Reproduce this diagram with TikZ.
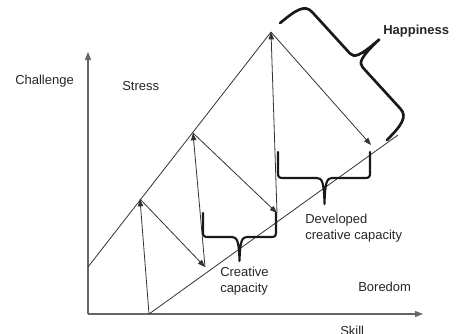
\documentclass[tikz,border=0pt]{standalone}
\usepackage{fontspec}
\setmainfont{Liberation Sans}
\usepackage{tikz}
\usetikzlibrary{arrows.meta,positioning}

\begin{document}
\begin{tikzpicture}[x=0.75pt,y=-0.75pt,
  font=\fontsize{9.75}{11.5}\selectfont,
  axis/.style={draw=black!60,line width=0.9pt,-{Triangle[length=6pt,width=4.5pt]}},
  edge/.style={draw=black!80,line width=0.6pt},
  arr/.style={edge,-{Triangle[length=5.5pt,width=4pt]}},
  brc/.style={draw=black!90,line width=1.6pt,line cap=round,line join=round},
  lbl/.style={text=black!85,inner sep=0pt,align=left}]
\useasboundingbox (0,0) rectangle (460,333);

% axes
\coordinate (O) at (88,314);
\coordinate (ytop) at (88,52);
\coordinate (xend) at (423,314);
\draw[axis] (O) -- (ytop);
\draw[axis] (O) -- (xend);

% stress and boredom borders
\coordinate (s0) at (88,267);
\coordinate (p1) at (140,199);
\coordinate (p2) at (193,133);
\coordinate (p3) at (271,32);
\coordinate (b0) at (149,314);
\coordinate (b1) at (205,267);
\coordinate (b2) at (277,213);
\coordinate (b3) at (371,145);
\coordinate (bend) at (398,135);
\draw[edge] (s0) -- (p3);
\draw[edge] (b0) -- (bend);

% growth steps
\draw[arr] (b0) -- (p1);
\draw[arr] (p1) -- (b1);
\draw[arr] (b1) -- (p2);
\draw[arr] (p2) -- (b2);
\draw[arr] (b2) -- (p3);
\draw[arr] (p3) -- (b3);

% braces
\begin{scope}[shift={(203,213)}]
  \draw[brc] (0,0) -- (0,19) .. controls (0,23) and (1,24) .. (5,24) -- (29,24)
    .. controls (34,24) and (36,28) .. (36.5,48) .. controls (37,28) and (39,24) .. (44,24)
    -- (68,24) .. controls (72,24) and (73,23) .. (73,19) -- (73,0);
\end{scope}
\begin{scope}[shift={(278,152)}]
  \draw[brc] (0,0) -- (0,21) .. controls (0,25) and (1,26) .. (5,26) -- (39,26)
    .. controls (44,26) and (46,30) .. (46.5,52) .. controls (47,30) and (49,26) .. (54,26)
    -- (87,26) .. controls (91,26) and (92,25) .. (92,21) -- (92,0);
\end{scope}
\begin{scope}[shift={(387,140)},rotate=132.4]
  \draw[brc,line width=2pt] (0,0) .. controls (1,20) and (3,31) .. (14,31) -- (70,31)
    .. controls (76,31) and (79,36) .. (79.5,62) .. controls (80,36) and (83,31) .. (89,31)
    -- (145,31) .. controls (156,31) and (157.5,20) .. (158.5,0);
\end{scope}

% labels
\node[lbl,anchor=base west] (challenge) at (15,84) {Challenge};
\node[lbl,anchor=base west] (stress) at (122,90) {Stress};
\node[lbl,anchor=base west,font=\fontsize{9.75}{11.5}\selectfont\bfseries] (happy) at (383,34.5) {Happiness};
\node[lbl,anchor=north west] (creative) at (220,267) {Creative\\capacity};
\node[lbl,anchor=north west] (developed) at (305,214) {Developed\\creative capacity};
\node[lbl,anchor=base west] (boredom) at (358,291) {Boredom};
\node[lbl,anchor=base west] (skill) at (340,335) {Skill};
\end{tikzpicture}
\end{document}
